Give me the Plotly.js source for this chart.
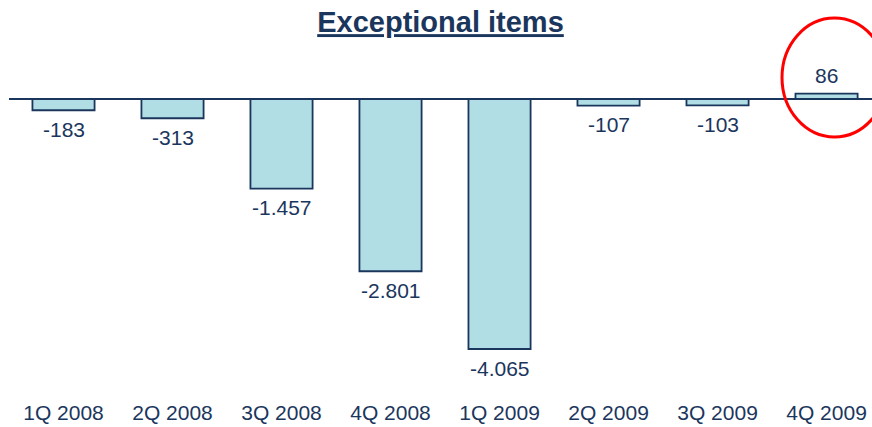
<!DOCTYPE html>
<html>
<head>
<meta charset="utf-8">
<script src="https://cdn.plot.ly/plotly-3.0.1.min.js"></script>
<style>html,body{margin:0;padding:0;background:#fff;}#chart{width:872px;height:427px;}</style>
</head>
<body>
<div id="chart"></div>
<script>
const categories = ['1Q 2008','2Q 2008','3Q 2008','4Q 2008','1Q 2009','2Q 2009','3Q 2009','4Q 2009'];
const values = [-183, -313, -1457, -2801, -4065, -107, -103, 86];

const navy = '#1B365D';
const fontFam = 'Liberation Sans, Arial, sans-serif';
function fmt(v){
  const s = Math.abs(v).toString().replace(/\B(?=(\d{3})+(?!\d))/g, '.');
  return (v < 0 ? '-' : '') + s;
}

const trace = {
  type: 'bar',
  x: categories,
  y: values,
  marker: {color: '#B0DEE4', line: {color: navy, width: 1.8}},
  hoverinfo: 'skip'
};

const annotations = categories.map((c, i) => ({
  x: c, y: values[i], xref: 'x', yref: 'y',
  text: fmt(values[i]), showarrow: false,
  yanchor: 'middle',
  yshift: values[i] < 0 ? -19 : 18,
  font: {family: fontFam, size: 21, color: navy}
}));

const layout = {
  width: 872, height: 427,
  margin: {l: 9, r: 0, t: 60, b: 32},
  paper_bgcolor: '#fff', plot_bgcolor: '#fff',
  title: {
    text: '<b>Exceptional items</b>',
    x: 0.5, xref: 'paper', y: 1 - 22/427, yref: 'container', yanchor: 'middle',
    font: {family: fontFam, size: 29, color: navy, lineposition: 'under'}
  },
  bargap: 0.43,
  showlegend: false,
  xaxis: {
    type: 'category', range: [-0.5, 7.417],
    showgrid: false, showline: false, zeroline: false, ticks: '',
    ticklabelstandoff: 3,
    tickfont: {family: fontFam, size: 21, color: navy}
  },
  yaxis: {
    range: [-4813, 634],
    showgrid: false, showline: false, showticklabels: false, ticks: '',
    zeroline: true, zerolinecolor: navy, zerolinewidth: 1.8
  },
  annotations: annotations,
  shapes: [{
    type: 'circle', xref: 'paper', yref: 'paper',
    x0: (782 - 9) / 863, x1: (887 - 9) / 863,
    y0: (395 - 137) / 335, y1: (395 - 18) / 335,
    line: {color: '#FF0000', width: 3}
  }]
};

Plotly.newPlot('chart', [trace], layout, {displayModeBar: false, staticPlot: true});
</script>
</body>
</html>
